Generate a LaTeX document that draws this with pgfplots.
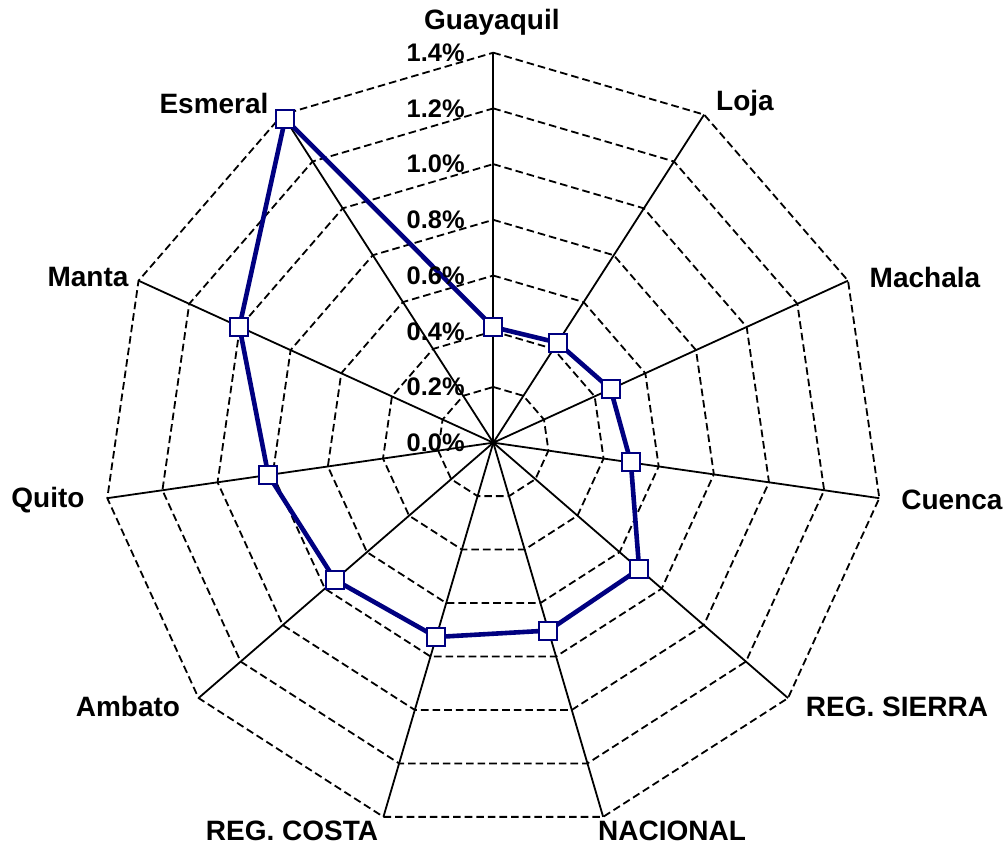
\documentclass[border=0pt]{standalone}
\usepackage{pgfplots}
\pgfplotsset{compat=1.18}
\usepackage{fontspec}
\setmainfont{Liberation Sans}
\definecolor{navyline}{RGB}{0,0,128}
\begin{document}
\begin{tikzpicture}
\begin{axis}[
  scale only axis, width=503.5pt, height=422pt,
  xmin=-1.7708, xmax=1.8441, ymin=-1.4406, ymax=1.5892,
  hide axis, clip=false,
]
% dashed polygon rings
\pgfplotsinvokeforeach{0.2,0.4,0.6,0.8,1.0,1.2,1.4}{
  \addplot[black, line width=0.9pt, dash pattern=on 3.8pt off 2pt, data cs=polar] coordinates {
    (90,#1) (57.2727,#1) (24.5455,#1) (-8.1818,#1) (-40.9091,#1) (-73.6364,#1)
    (-106.3636,#1) (-139.0909,#1) (-171.8182,#1) (155.4545,#1) (122.7273,#1) (90,#1)};
}
% spokes
\pgfplotsinvokeforeach{90,57.2727,24.5455,-8.1818,-40.9091,-73.6364,-106.3636,-139.0909,-171.8182,155.4545,122.7273}{
  \addplot[black, line width=0.9pt, data cs=polar] coordinates {(#1,0) (#1,1.4)};
}
% data series
\addplot[navyline, line width=2.3pt, mark=square*, mark size=4.5pt,
  mark options={fill=white, draw=navyline, line width=1pt, solid}, data cs=polar] coordinates {
  (90,0.415) (57.2727,0.427) (24.5455,0.463) (-8.1818,0.499) (-40.9091,0.693)
  (-73.6364,0.703) (-106.3636,0.727) (-139.0909,0.752) (-171.8182,0.816)
  (155.4545,1.002) (122.7273,1.382) (90,0.415)};
% radial tick labels
\tikzset{tl/.style={anchor=east, font=\fontsize{12.7pt}{14pt}\selectfont\bfseries, inner sep=0pt}}
\node[tl] at (axis cs:-0.1016,0.0) {0.0\%};
\node[tl] at (axis cs:-0.1016,0.2) {0.2\%};
\node[tl] at (axis cs:-0.1016,0.4) {0.4\%};
\node[tl] at (axis cs:-0.1016,0.6) {0.6\%};
\node[tl] at (axis cs:-0.1016,0.8) {0.8\%};
\node[tl] at (axis cs:-0.1016,1.0) {1.0\%};
\node[tl] at (axis cs:-0.1016,1.2) {1.2\%};
\node[tl] at (axis cs:-0.1016,1.4) {1.4\%};
% category labels
\tikzset{cat/.style={font=\fontsize{14pt}{16pt}\selectfont\bfseries, inner sep=0pt}}
\node[cat] at (axis cs:-0.005,1.510) {Guayaquil};
\node[cat] at (axis cs:0.9035,1.2194) {Loja};
\node[cat] at (axis cs:1.5497,0.5948) {Machala};
\node[cat] at (axis cs:1.6465,-0.2057) {Cuenca};
\node[cat] at (axis cs:1.4492,-0.9488) {REG. SIERRA};
\node[cat] at (axis cs:0.6415,-1.3939) {NACIONAL};
\node[cat] at (axis cs:-0.7226,-1.3939) {REG. COSTA};
\node[cat] at (axis cs:-1.3113,-0.9488) {Ambato};
\node[cat] at (axis cs:-1.5985,-0.2057) {Quito};
\node[cat] at (axis cs:-1.4549,0.5948) {Manta};
\node[cat] at (axis cs:-1.0026,1.2194) {Esmeral};
\end{axis}
\pgfresetboundingbox
\useasboundingbox (current axis.south west) rectangle (current axis.north east);
\end{tikzpicture}
\end{document}
